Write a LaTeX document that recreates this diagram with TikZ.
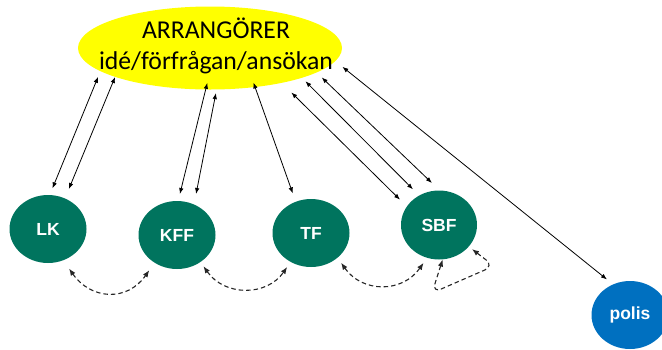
\documentclass[tikz,border=0pt]{standalone}
\usepackage{fontspec}
\setmainfont{Carlito}
\newfontfamily\orgfont{Liberation Sans}
\usepackage{tikz}
\usetikzlibrary{shapes.geometric}
\usetikzlibrary{arrows.meta}
\definecolor{orggreen}{RGB}{0,116,94}
\definecolor{polisblue}{RGB}{0,112,192}
\definecolor{arryellow}{RGB}{255,255,0}

\begin{document}
\begin{tikzpicture}[x=1pt,y=1pt,
  org/.style={ellipse, fill=orggreen, minimum width=77pt, minimum height=68pt,
    inner sep=0pt, text=white, font=\orgfont\bfseries\fontsize{17.5}{17.5}\selectfont},
  conn/.style={{Latex[length=6pt,width=4.5pt]}-{Latex[length=6pt,width=4.5pt]},
    line width=0.8pt},
  dasharr/.style={{Latex[length=7pt,width=5.5pt]}-{Latex[length=7pt,width=5.5pt]},
    line width=1.1pt, dash pattern=on 4.5pt off 3pt, black!85}]

\useasboundingbox (0,0) rectangle (662,-349);

%---------------------------------------
% Arrangers
%---------------------------------------
\node[ellipse, fill=arryellow, minimum width=264pt, minimum height=83pt,
      inner sep=0pt] (arr) at (210,-48) {};
\node[align=center, font=\fontsize{25.7}{31}\selectfont] (arrtxt) at (216,-46)
      {ARRANGÖRER\\idé/förfrågan/ansökan};

%---------------------------------------
% Authorities
%---------------------------------------
\node[org] (lk)  at (48,-229)  {LK};
\node[org] (kff) at (177,-235) {KFF};
\node[org] (tf)  at (311,-233) {TF};
\node[org, minimum width=76pt, minimum height=69pt] (sbf) at (439,-225) {SBF};
\node[org, fill=polisblue] (polis) at (630,-315) {polis};

%---------------------------------------
% Arranger <-> authority
%---------------------------------------
\draw[conn, shorten <=7pt, shorten >=6pt]     (lk.87)  -- (arr.192.8);
\draw[conn, shorten <=10pt]                   (lk.61)  -- (arr.197.6);
\draw[conn, shorten <=7pt, shorten >=-7pt]    (kff.88) -- (arr.264.5);
\draw[conn, shorten <=10.5pt, shorten >=3.5pt] (kff.61) -- (arr.279.6);
\draw[conn, shorten <=8.7pt, shorten >=-5pt]  (tf.116) -- (arr.319.8);
\draw[conn, shorten <=9.5pt, shorten >=13.4pt] (sbf.150.5) -- (arr.334.6);
\draw[conn, shorten <=8.6pt, shorten >=4.7pt] (sbf.124) -- (arr.342.1);
\draw[conn, shorten <=10.6pt, shorten >=7pt]  (sbf.89)  -- (arr.347.5);
\draw[conn, shorten <=7.7pt, shorten >=9pt]   (polis.119.5) -- (arr.354.4);

%---------------------------------------
% Authority <-> authority (dashed)
%---------------------------------------
\draw[dasharr, shorten <=10pt, shorten >=9pt]
  (lk.-64) .. controls +(-55:48) and +(-125:48) .. (kff.-129);
\draw[dasharr, shorten <=5pt, shorten >=6pt]
  (kff.-49) .. controls +(-55:42) and +(-125:42) .. (tf.-125);
\draw[dasharr, shorten <=6pt, shorten >=6pt]
  (tf.-43) .. controls +(-55:43) and +(-125:43) .. (sbf.-110);

% SBF loop
\coordinate (loopa) at (432,-293);
\coordinate (loopb) at (494,-266);
\draw[dasharr, rounded corners=10pt, shorten >=4pt]
  (sbf.-84) -- (loopa) -- (loopb) -- (sbf.-36);

\end{tikzpicture}
\end{document}
